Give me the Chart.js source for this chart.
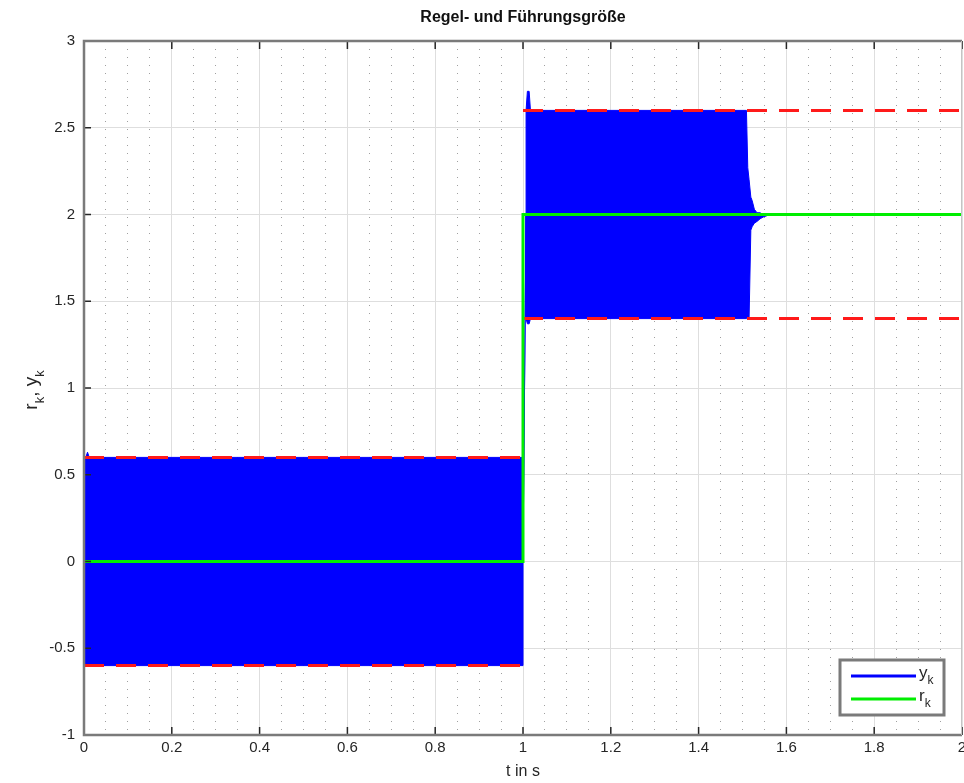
<!DOCTYPE html>
<html>
<head>
<meta charset="utf-8">
<title>Regel- und Führungsgröße</title>
<script src="https://cdn.jsdelivr.net/npm/chart.js@4"></script>
<style>
  html, body { margin: 0; padding: 0; background: #fff; }
  canvas { display: block; }
</style>
</head>
<body>
<canvas id="myChart" width="964" height="783"></canvas>
<script>
// Regelgröße y_k: Hüllkurve der schnellen Schwingung (oben / unten)
const bandTime  = [0, 0.004, 0.008, 0.012, 1.0, 1.0, 1.007, 1.007, 1.01, 1.014, 1.017, 1.509, 1.512, 1.515, 1.519, 1.522, 1.527, 1.533, 1.54, 1.547, 1.563, 2.0];
const bandUpper = [0.6, 0.6, 0.63, 0.6, 0.6, 0, 2.0, 2.6, 2.71, 2.71, 2.6, 2.6, 2.27, 2.2, 2.1, 2.08, 2.03, 2.01, 2.01, 2.0, 2.0, 2.0];
const bandLower = [-0.6, -0.6, -0.6, -0.6, -0.6, 0, 2.0, 1.4, 1.37, 1.37, 1.4, 1.4, 1.4, 1.4, 1.91, 1.93, 1.95, 1.96, 1.975, 1.985, 2.0, 2.0];

// Toleranzgrenzen (rot gestrichelt)
const limitTime  = [0, 1, 1, 1, 2];
const limitUpper = [0.6, 0.6, null, 2.6, 2.6];
const limitLower = [-0.6, -0.6, null, 1.4, 1.4];

// Führungsgröße r_k
const refTime  = [0, 1, 1, 2];
const refValue = [0, 0, 2, 2];

// Achsenbeschriftung
const xTickValues = [0, 0.2, 0.4, 0.6, 0.8, 1, 1.2, 1.4, 1.6, 1.8, 2];
const yTickValues = [-1, -0.5, 0, 0.5, 1, 1.5, 2, 2.5, 3];

const pts = (xs, ys) => xs.map((x, i) => ({ x: x, y: ys[i] }));

const FONT = "'Liberation Sans Narrow', 'Liberation Sans', Arial, sans-serif";
Chart.defaults.font.family = FONT;
Chart.defaults.color = '#262626';

// Text mit tiefgestelltem Index, z.B. ['r','k'] -> r_k
function drawSub(ctx, parts, x, y, size) {
  let cx = x;
  parts.forEach(p => {
    ctx.font = (p.sub ? Math.round(size * 0.7) : size) + 'px ' + FONT;
    ctx.fillText(p.t, cx, p.sub ? y + size * 0.35 : y);
    cx += ctx.measureText(p.t).width;
  });
  return cx - x;
}
function subWidth(ctx, parts, size) {
  let w = 0;
  parts.forEach(p => {
    ctx.font = (p.sub ? Math.round(size * 0.7) : size) + 'px ' + FONT;
    w += ctx.measureText(p.t).width;
  });
  return w;
}

// Rahmen, nach innen zeigende Ticks und y-Achsentitel
const frame = {
  id: 'frame',
  afterDatasetsDraw(chart) {
    const { ctx, chartArea: a, scales } = chart;
    ctx.save();
    ctx.strokeStyle = '#262626';
    ctx.lineWidth = 1.5;
    ctx.beginPath();
    scales.x.ticks.forEach(t => {
      const px = scales.x.getPixelForValue(t.value);
      ctx.moveTo(px, a.bottom); ctx.lineTo(px, a.bottom - 8);
      ctx.moveTo(px, a.top); ctx.lineTo(px, a.top + 8);
    });
    scales.y.ticks.forEach(t => {
      const py = scales.y.getPixelForValue(t.value);
      ctx.moveTo(a.left, py); ctx.lineTo(a.left + 7, py);
    });
    ctx.stroke();
    ctx.strokeStyle = '#7a7a7a';
    ctx.lineWidth = 2.5;
    ctx.beginPath();
    ctx.moveTo(a.right, a.top);
    ctx.lineTo(a.left, a.top);
    ctx.lineTo(a.left, a.bottom);
    ctx.lineTo(a.right, a.bottom);
    ctx.stroke();
    ctx.strokeStyle = '#c4c4c4';
    ctx.lineWidth = 1;
    ctx.beginPath();
    ctx.moveTo(a.right - 0.5, a.top);
    ctx.lineTo(a.right - 0.5, a.bottom);
    ctx.stroke();

    // y-Achsentitel r_k, y_k
    const parts = [{ t: 'r' }, { t: 'k', sub: true }, { t: ', ' }, { t: 'y' }, { t: 'k', sub: true }];
    const size = 19;
    ctx.translate(37, (a.top + a.bottom) / 2 + 2);
    ctx.rotate(-Math.PI / 2);
    ctx.fillStyle = '#262626';
    ctx.textBaseline = 'alphabetic';
    const w = subWidth(ctx, parts, size);
    drawSub(ctx, parts, -w / 2, 0, size);
    ctx.restore();
  }
};

// Legende im Diagramm unten rechts, mit grauem Rahmen
const legendBox = {
  id: 'legendBox',
  afterDraw(chart) {
    const { ctx, chartArea: a } = chart;
    const items = [chart.data.datasets[0], chart.data.datasets[4]];
    const w = 104, h = 55;
    const x0 = a.right - 18 - w, y0 = a.bottom - 20 - h;
    ctx.save();
    ctx.fillStyle = '#fff';
    ctx.fillRect(x0, y0, w, h);
    ctx.strokeStyle = '#7a7a7a';
    ctx.lineWidth = 3;
    ctx.strokeRect(x0, y0, w, h);
    items.forEach((ds, i) => {
      const ly = y0 + 16 + i * 23;
      ctx.strokeStyle = ds.legendColor;
      ctx.lineWidth = 3;
      ctx.beginPath();
      ctx.moveTo(x0 + 11, ly);
      ctx.lineTo(x0 + 76, ly);
      ctx.stroke();
      ctx.fillStyle = '#262626';
      ctx.textBaseline = 'alphabetic';
      drawSub(ctx, [{ t: ds.label.charAt(0) }, { t: ds.label.charAt(1), sub: true }], x0 + 79, ly + 2, 17);
    });
    ctx.restore();
  }
};

const isMajor = v => Math.abs(v / 0.2 - Math.round(v / 0.2)) < 1e-6;

new Chart(document.getElementById('myChart'), {
  type: 'line',
  data: {
    datasets: [
      {
        label: 'yk',
        legendColor: '#0000ff',
        data: pts(bandTime, bandUpper),
        borderColor: '#0000ff',
        backgroundColor: '#0000ff',
        borderWidth: 1,
        pointRadius: 0,
        fill: '+1',
        order: 3
      },
      {
        label: 'yk unten',
        data: pts(bandTime, bandLower),
        borderColor: '#0000ff',
        borderWidth: 1,
        pointRadius: 0,
        fill: false,
        order: 3
      },
      {
        label: 'Grenze oben',
        data: pts(limitTime, limitUpper),
        borderColor: '#ff1a1a',
        borderWidth: 3,
        borderDash: [20, 12],
        pointRadius: 0,
        spanGaps: false,
        fill: false,
        order: 2
      },
      {
        label: 'Grenze unten',
        data: pts(limitTime, limitLower),
        borderColor: '#ff1a1a',
        borderWidth: 3,
        borderDash: [20, 12],
        pointRadius: 0,
        spanGaps: false,
        fill: false,
        order: 2
      },
      {
        label: 'rk',
        legendColor: '#00ee00',
        data: pts(refTime, refValue),
        borderColor: '#00ee00',
        borderWidth: 3,
        pointRadius: 0,
        fill: false,
        order: 1
      }
    ]
  },
  options: {
    responsive: false,
    animation: false,
    events: [],
    layout: { padding: { left: 0, right: 2, top: 0, bottom: 0 } },
    plugins: {
      legend: { display: false },
      tooltip: { enabled: false },
      title: {
        display: true,
        fullSize: false,
        text: 'Regel- und Führungsgröße',
        color: '#111',
        font: { size: 16, weight: 'bold', lineHeight: 1.2 },
        padding: { top: 8, bottom: 13.8 }
      }
    },
    scales: {
      x: {
        type: 'linear',
        min: 0,
        max: 2,
        afterBuildTicks: s => { s.ticks = xTickValues.map(v => ({ value: v })); },
        afterFit: s => { s.height = 48; s.paddingLeft = 0; s.paddingRight = 0; },
        ticks: { padding: 4, maxRotation: 0, font: { size: 15 }, callback: v => String(v) },
        grid: { color: '#dedede', lineWidth: 1, drawTicks: false },
        border: { display: false },
        title: { display: true, text: 't in s', font: { size: 16 }, padding: { top: 0, bottom: 2 } }
      },
      xMinor: {
        type: 'linear',
        position: 'bottom',
        min: 0,
        max: 2,
        afterFit: s => { s.height = 0; s.paddingLeft = 0; s.paddingRight = 0; },
        ticks: { display: false, stepSize: 0.05 },
        grid: {
          drawTicks: false,
          lineWidth: 1,
          color: c => isMajor(c.tick.value) ? 'rgba(0,0,0,0)' : '#a0a0a0'
        },
        border: { display: false, dash: [1, 7] }
      },
      y: {
        type: 'linear',
        min: -1,
        max: 3,
        afterBuildTicks: s => { s.ticks = yTickValues.map(v => ({ value: v })); },
        afterFit: s => { s.width = 84; s.paddingTop = 0; s.paddingBottom = 0; },
        ticks: { padding: 9, font: { size: 15 }, callback: v => String(v) },
        grid: { color: '#dedede', lineWidth: 1, drawTicks: false },
        border: { display: false }
      }
    }
  },
  plugins: [frame, legendBox]
});
</script>
</body>
</html>
